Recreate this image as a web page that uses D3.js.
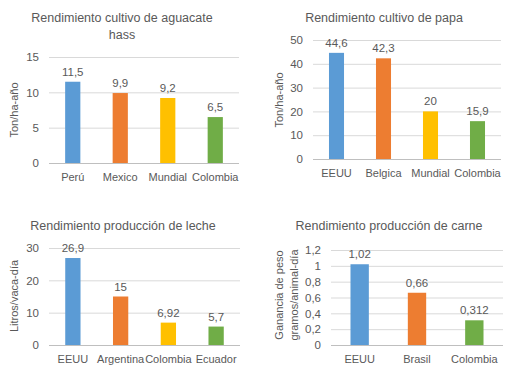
<!DOCTYPE html>
<html>
<head>
<meta charset="utf-8">
<script src="https://cdn.jsdelivr.net/npm/d3@7"></script>
<style>
  body { margin: 0; background: #fff; }
  svg { display: block; font-family: 'Liberation Sans', Arial, sans-serif; }
  .tick text, .lbl { fill: #595959; }
</style>
</head>
<body>
<svg id="chart" width="512" height="370"></svg>
<script>
// aguacate hass
const aguacateCats = ['Perú', 'Mexico', 'Mundial', 'Colombia'];
const aguacateVals = [11.5, 9.9, 9.2, 6.5];
const aguacateTicks = [0, 5, 10, 15];

// papa
const papaCats = ['EEUU', 'Belgica', 'Mundial', 'Colombia'];
const papaVals = [44.6, 42.3, 20, 15.9];
const papaTicks = [0, 10, 20, 30, 40, 50];

// leche
const lecheCats = ['EEUU', 'Argentina', 'Colombia', 'Ecuador'];
const lecheVals = [26.9, 15, 6.92, 5.7];
const lecheTicks = [0, 10, 20, 30];

// carne
const carneCats = ['EEUU', 'Brasil', 'Colombia'];
const carneVals = [1.02, 0.66, 0.312];
const carneTicks = [0, 0.2, 0.4, 0.6, 0.8, 1, 1.2];

const blue = '#5B9BD5', orange = '#ED7D31', yellow = '#FFC000', green = '#70AD47';

const panels = [
  {
    title: ['Rendimiento cultivo de aguacate', 'hass'], titleX: 122, titleY: 22,
    yLabel: ['Ton/ha-año'], yLabelX: [18], yLabelY: 110,
    cats: aguacateCats, vals: aguacateVals, ticks: aguacateTicks,
    colors: [blue, orange, yellow, green],
    x0: 49, x1: 239, yTop: 57, yBot: 163
  },
  {
    title: ['Rendimiento cultivo de papa'], titleX: 384, titleY: 22,
    yLabel: ['Ton/ha-año'], yLabelX: [283], yLabelY: 100,
    cats: papaCats, vals: papaVals, ticks: papaTicks,
    colors: [blue, orange, yellow, green],
    x0: 313, x1: 501, yTop: 40, yBot: 159
  },
  {
    title: ['Rendimiento producción de leche'], titleX: 123, titleY: 230,
    yLabel: ['Litros/vaca-día'], yLabelX: [18], yLabelY: 296,
    cats: lecheCats, vals: lecheVals, ticks: lecheTicks,
    colors: [blue, orange, yellow, green],
    x0: 49, x1: 240, yTop: 248, yBot: 345
  },
  {
    title: ['Rendimiento producción de carne'], titleX: 389, titleY: 230,
    yLabel: ['Ganancia de peso', 'gramos/animal-día'], yLabelX: [283, 298], yLabelY: 295,
    cats: carneCats, vals: carneVals, ticks: carneTicks,
    colors: [blue, orange, green],
    x0: 331, x1: 503, yTop: 250, yBot: 345
  }
];

const comma = v => String(v).replace('.', ',');

const svg = d3.select('#chart');

panels.forEach(p => {
  const g = svg.append('g');

  const x = d3.scaleBand()
    .domain(p.cats)
    .range([p.x0, p.x1])
    .paddingInner(0.68)
    .paddingOuter(0.34);

  const y = d3.scaleLinear()
    .domain([0, d3.max(p.ticks)])
    .range([p.yBot, p.yTop]);

  // gridlines + tick labels
  const yAxis = g.append('g')
    .attr('transform', `translate(${p.x0},0)`)
    .call(d3.axisLeft(y)
      .tickValues(p.ticks)
      .tickSize(-(p.x1 - p.x0))
      .tickPadding(10)
      .tickFormat(comma));
  yAxis.select('.domain').remove();
  yAxis.selectAll('.tick line')
    .attr('stroke', d => (d === 0 ? '#BFBFBF' : '#D9D9D9'))
    .attr('stroke-width', d => (d === 0 ? 1.2 : 1));
  yAxis.selectAll('.tick text')
    .attr('font-size', 11.5)
    .attr('font-family', "'Liberation Sans', Arial, sans-serif");

  // bars
  g.selectAll('rect.bar')
    .data(p.vals)
    .enter()
    .append('rect')
    .attr('class', 'bar')
    .attr('x', (d, i) => x(p.cats[i]))
    .attr('width', x.bandwidth())
    .attr('y', d => y(d))
    .attr('height', d => y(0) - y(d))
    .attr('fill', (d, i) => p.colors[i]);

  // value labels
  g.selectAll('text.val')
    .data(p.vals)
    .enter()
    .append('text')
    .attr('class', 'lbl val')
    .attr('x', (d, i) => x(p.cats[i]) + x.bandwidth() / 2)
    .attr('y', d => y(d) - 6)
    .attr('text-anchor', 'middle')
    .attr('font-size', 11.5)
    .text(d => comma(d));

  // category labels
  g.selectAll('text.cat')
    .data(p.cats)
    .enter()
    .append('text')
    .attr('class', 'lbl cat')
    .attr('x', d => x(d) + x.bandwidth() / 2)
    .attr('y', p.yBot + 18)
    .attr('text-anchor', 'middle')
    .attr('font-size', 11)
    .text(d => d);

  // title
  p.title.forEach((t, i) => {
    g.append('text')
      .attr('class', 'lbl')
      .attr('x', p.titleX)
      .attr('y', p.titleY + i * 17)
      .attr('text-anchor', 'middle')
      .attr('font-size', 12.5)
      .text(t);
  });

  // y label
  p.yLabel.forEach((t, i) => {
    g.append('text')
      .attr('class', 'lbl')
      .attr('transform', `translate(${p.yLabelX[i]},${p.yLabelY}) rotate(-90)`)
      .attr('text-anchor', 'middle')
      .attr('font-size', 11)
      .text(t);
  });
});
</script>
</body>
</html>
